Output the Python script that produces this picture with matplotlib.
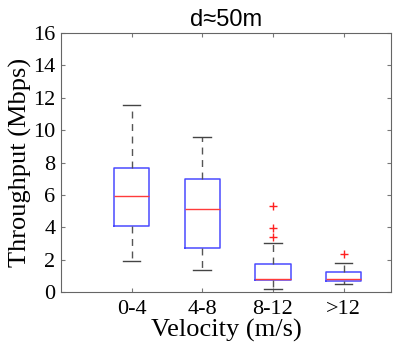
import matplotlib
matplotlib.use('Agg')
import matplotlib.pyplot as plt

labels = ['0-4', '4-8', '8-12', '>12']
whislo = [1.9, 1.34, 0.17, 0.51]
q1 = [4.08, 2.72, 0.74, 0.68]
med = [5.93, 5.1, 0.82, 0.8]
q3 = [7.68, 6.96, 1.71, 1.22]
whishi = [11.55, 9.6, 3.0, 1.77]
fliers = [[], [], [5.31, 3.97, 3.4], [2.35]]

stats = []
for i in range(len(labels)):
    stats.append(dict(label=labels[i], whislo=whislo[i], q1=q1[i], med=med[i],
                      q3=q3[i], whishi=whishi[i], fliers=fliers[i]))

plt.rcParams['font.family'] = 'Liberation Serif'
fig = plt.figure(figsize=(3.99, 3.49), dpi=100)
ax = fig.add_axes([61/399, 1-292/349, 330/399, 259/349])

ax.bxp(stats, positions=[1, 2, 3, 4], widths=0.5,
       boxprops=dict(color='#4a4aff', lw=1.1),
       medianprops=dict(color='#ff3b3b', lw=1.0),
       whiskerprops=dict(color='#555555', lw=1.0, linestyle=(0, (5, 4))),
       capprops=dict(color='#444444', lw=1.0),
       flierprops=dict(marker='+', markeredgecolor='#ff2020', markersize=6, markeredgewidth=1))

ax.set_xlim(0.0, 4.67)
ax.set_ylim(0, 16)
ax.set_yticks(range(0, 17, 2))
ax.set_xticks([1, 2, 3, 4])
ax.set_xticklabels(labels)
ax.tick_params(direction='in', top=True, right=True, labelsize=16, length=3,
               color='#777777')
ax.tick_params(axis='x', pad=6)
ax.tick_params(axis='y', pad=4)
for s in ax.spines.values():
    s.set_color('#666666')
ax.set_xlabel('Velocity (m/s)', fontsize=19, labelpad=0)
ax.set_ylabel('Throughput (Mbps)', fontsize=19, labelpad=1)
ax.set_title('d≈50m', fontsize=17, family=['Liberation Sans', 'DejaVu Sans'], pad=5)

fig.savefig('out.png', dpi=100)
